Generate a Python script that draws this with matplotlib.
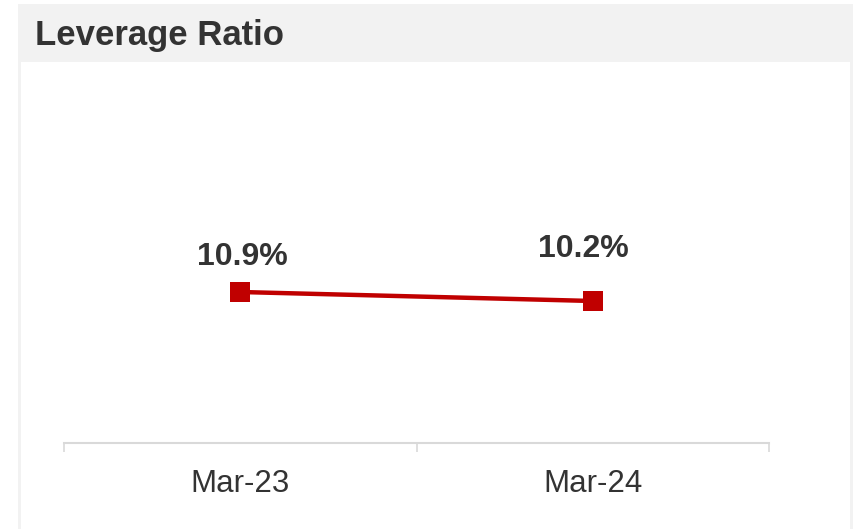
import matplotlib.pyplot as plt
from matplotlib.patches import Rectangle

# data
categories = ['Mar-23', 'Mar-24']
leverage = [10.9, 10.2]
labels = ['10.9%', '10.2%']
label_offsets = [(1.5, 19.5), (-6.5, 31.5)]  # points, per label

W, H = 856, 529
fig = plt.figure(figsize=(W / 100, H / 100), dpi=100)
fig.patch.set_facecolor('white')

# panel: grey frame with header band, white inner area
fig.add_artist(Rectangle((18 / W, 0), 835 / W, 525 / H, transform=fig.transFigure,
                         facecolor='#f2f2f2', edgecolor='none', zorder=0))
fig.add_artist(Rectangle((21 / W, 0), 829 / W, 467 / H, transform=fig.transFigure,
                         facecolor='white', edgecolor='none', zorder=0))
fig.text(35 / W, 1 - 45 / H, 'Leverage Ratio', fontsize=25, fontweight='bold',
         color='#333333', family='Liberation Sans', va='baseline', ha='left')

top_px = 100
ax = fig.add_axes([64 / W, 86 / H, 705 / W, (443 - top_px) / H])
ax.patch.set_alpha(0)

x = list(range(len(categories)))
ax.plot(x, leverage, color='#c00000', lw=3.2, marker='s', markersize=15,
        markeredgewidth=0, zorder=3)

for xi, yi, txt, off in zip(x, leverage, labels, label_offsets):
    ax.annotate(txt, (xi, yi), xytext=off, textcoords='offset points',
                ha='center', va='baseline', fontsize=23, fontweight='bold',
                color='#333333', family='Liberation Sans')

ppu = 12.86  # pixels per unit
ax.set_xlim(-0.5, len(categories) - 0.5)
ax.set_ylim(10.9 - (443 - 292) / ppu, 10.9 + (292 - top_px) / ppu)

for s in ['left', 'right', 'top']:
    ax.spines[s].set_visible(False)
ax.spines['bottom'].set_color('#d9d9d9')
ax.spines['bottom'].set_linewidth(1.5)
ax.set_yticks([])
ax.set_xticks(x)
ax.set_xticklabels(categories, fontsize=22.5, color='#333333', family='Liberation Sans')
ax.set_xticks([-0.5, 0.5, 1.5], minor=True)
ax.tick_params(axis='x', which='major', length=0, pad=19)
ax.tick_params(axis='x', which='minor', length=6.5, width=1.2, color='#d9d9d9')

fig.savefig('out.png', dpi=100)
